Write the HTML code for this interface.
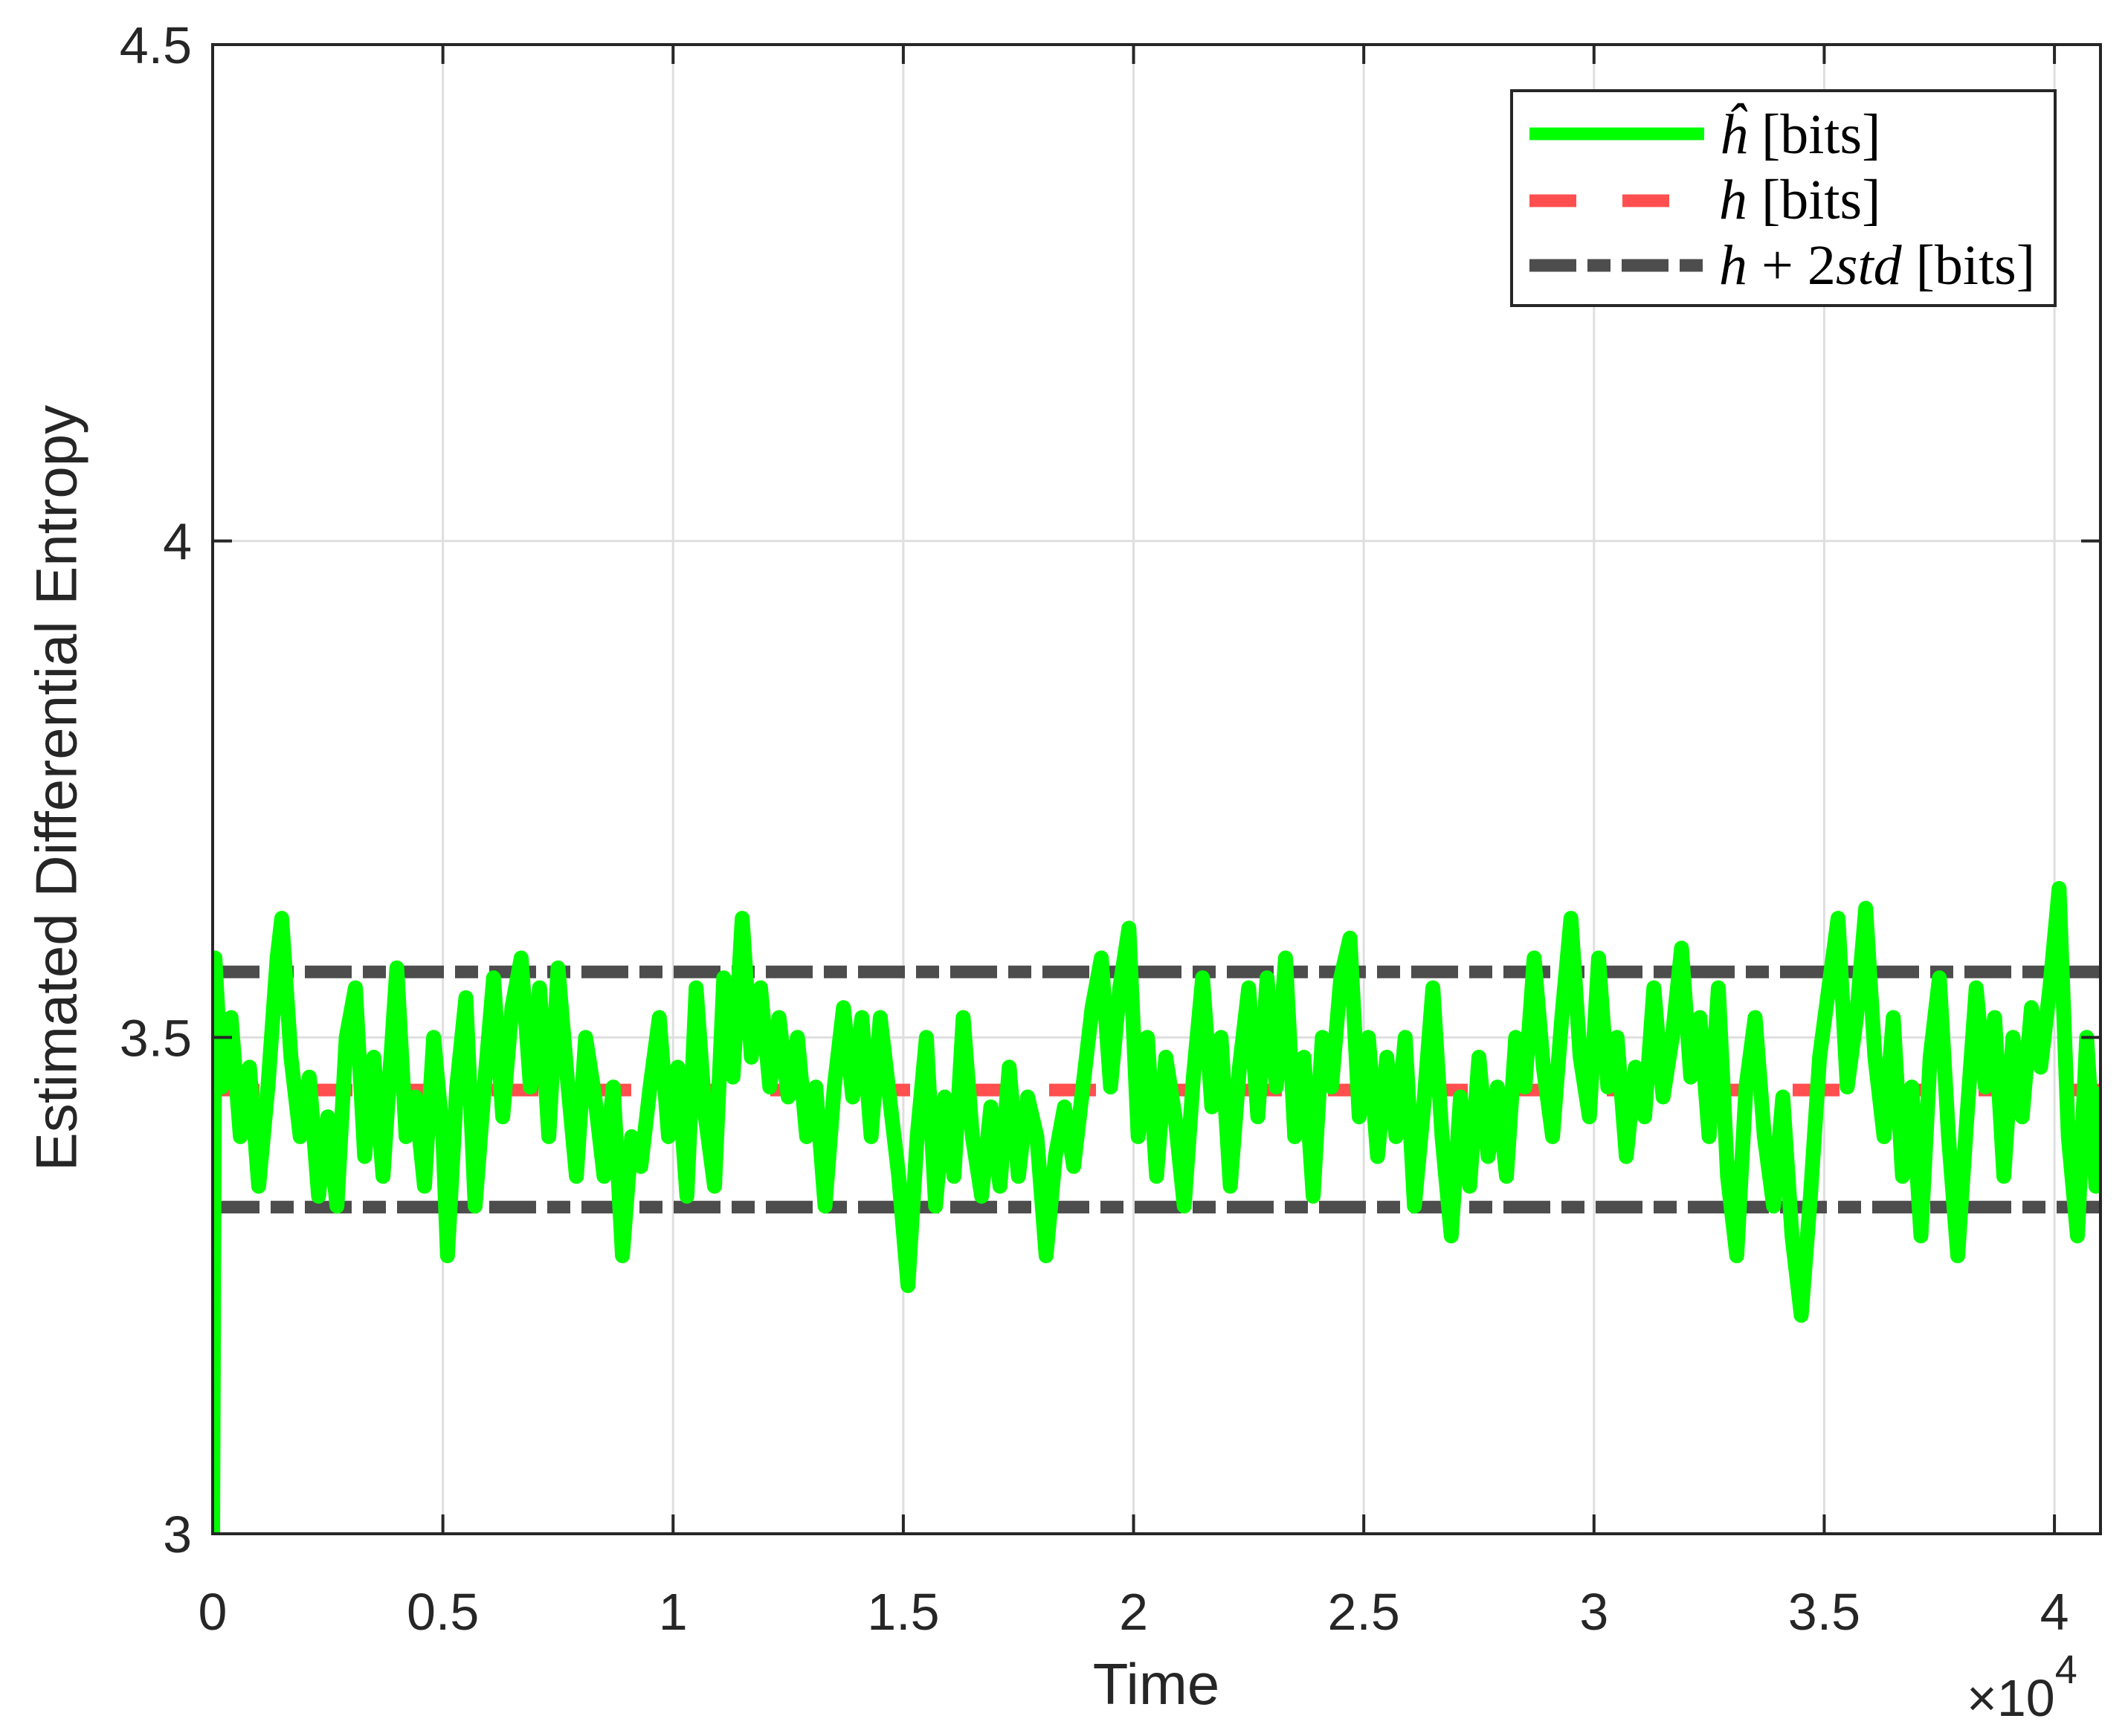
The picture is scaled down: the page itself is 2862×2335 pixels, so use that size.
<!DOCTYPE html>
<html><head><meta charset="utf-8"><style>html,body{margin:0;padding:0;background:#fff}svg{display:block}</style></head>
<body>
<svg id="chart" xmlns="http://www.w3.org/2000/svg" width="2862" height="2335" viewBox="0 0 2862 2335" font-family="Liberation Sans, sans-serif">
<rect width="2862" height="2335" fill="#fff"/>
<g id="grid"></g>
<g id="series"></g>
<g id="axes"></g>
<text x="82" y="1060" font-size="78" fill="#262626" text-anchor="middle" transform="rotate(-90 82 1060)" dominant-baseline="middle">Estimated Differential Entropy</text>
<text x="1555" y="2292" font-size="78" fill="#262626" text-anchor="middle">Time</text>
<text x="2645" y="2308" font-size="70" fill="#262626">×10<tspan dy="-44" font-size="54">4</tspan></text>
<g>
<rect x="2033" y="122" width="731" height="289" fill="#fff" stroke="#262626" stroke-width="4"/>
<line x1="2057" y1="180" x2="2292" y2="180" stroke="#00ff00" stroke-width="17"/>
<line x1="2057" y1="270" x2="2292" y2="270" stroke="#ff4f4f" stroke-width="17" stroke-dasharray="63 62"/>
<line x1="2057" y1="357" x2="2292" y2="357" stroke="#4d4d4d" stroke-width="17" stroke-dasharray="63 15 31 15"/>
<text x="2312" y="206" font-family="Liberation Serif, serif" font-size="76" fill="#000"><tspan font-style="italic">ĥ</tspan> [bits]</text>
<text x="2312" y="294" font-family="Liberation Serif, serif" font-size="76" fill="#000"><tspan font-style="italic">h</tspan> [bits]</text>
<text x="2312" y="382" font-family="Liberation Serif, serif" font-size="76" fill="#000"><tspan font-style="italic">h</tspan> + 2<tspan font-style="italic">std</tspan> [bits]</text>
</g>
</svg>
<script>
const xTicks = [0,5000,10000,15000,20000,25000,30000,35000,40000];
const xTickLabels = ["0","0.5","1","1.5","2","2.5","3","3.5","4"];
const yTicks = [3,3.5,4,4.5];
const yTickLabels = ["3","3.5","4","4.5"];
const hTrue = 3.447;
const hUpper = 3.566;
const hLower = 3.329;
const times = [0,50,200,400,600,800,1000,1200,1400,1500,1700,1900,2100,2300,2500,2700,2900,3100,3300,3500,3700,3900,4000,4200,4400,4600,4800,5000,5100,5300,5500,5700,5900,6100,6300,6500,6700,6900,7100,7300,7500,7700,7900,8100,8300,8500,8700,8900,9100,9300,9500,9700,9900,10100,10300,10500,10700,10900,11100,11300,11500,11700,11900,12100,12300,12500,12700,12900,13100,13300,13500,13700,13900,14100,14300,14500,14700,14900,15100,15300,15500,15700,15900,16100,16300,16500,16700,16900,17100,17300,17500,17700,17900,18100,18300,18500,18700,18900,19100,19300,19500,19700,19900,20100,20300,20500,20700,20900,21100,21300,21500,21700,21900,22100,22300,22500,22700,22900,23100,23300,23500,23700,23900,24100,24300,24500,24700,24900,25100,25300,25500,25700,25900,26100,26300,26500,26700,26900,27100,27300,27500,27700,27900,28100,28300,28500,28700,28900,29100,29300,29500,29700,29900,30100,30300,30500,30700,30900,31100,31300,31500,31700,31900,32100,32300,32500,32700,32900,33100,33300,33500,33700,33900,34100,34300,34500,34700,34900,35100,35300,35500,35700,35900,36100,36300,36500,36700,36900,37100,37300,37500,37700,37900,38100,38300,38500,38700,38900,39100,39300,39500,39700,39900,40100,40300,40500,40700,40900,41000];
const estimates = [3.0,3.58,3.45,3.52,3.40,3.47,3.35,3.45,3.58,3.62,3.48,3.40,3.46,3.34,3.42,3.33,3.50,3.55,3.38,3.48,3.36,3.50,3.57,3.40,3.44,3.35,3.50,3.40,3.28,3.45,3.54,3.33,3.45,3.56,3.42,3.53,3.58,3.45,3.55,3.40,3.57,3.46,3.36,3.50,3.44,3.36,3.45,3.28,3.40,3.37,3.45,3.52,3.40,3.47,3.34,3.55,3.42,3.35,3.56,3.46,3.62,3.48,3.55,3.45,3.52,3.44,3.50,3.40,3.45,3.33,3.45,3.53,3.44,3.52,3.40,3.52,3.44,3.36,3.25,3.40,3.50,3.33,3.44,3.36,3.52,3.40,3.34,3.43,3.35,3.47,3.36,3.44,3.40,3.28,3.38,3.43,3.37,3.45,3.53,3.58,3.45,3.55,3.61,3.40,3.50,3.36,3.48,3.42,3.33,3.46,3.56,3.43,3.50,3.35,3.47,3.55,3.42,3.56,3.45,3.58,3.40,3.48,3.34,3.50,3.45,3.56,3.60,3.42,3.50,3.38,3.48,3.40,3.50,3.33,3.43,3.55,3.40,3.30,3.44,3.35,3.48,3.38,3.45,3.36,3.50,3.45,3.58,3.47,3.40,3.52,3.62,3.48,3.42,3.58,3.45,3.50,3.38,3.47,3.42,3.55,3.44,3.50,3.59,3.46,3.52,3.40,3.55,3.36,3.28,3.45,3.52,3.40,3.33,3.44,3.30,3.22,3.34,3.48,3.55,3.62,3.45,3.52,3.63,3.48,3.40,3.52,3.36,3.45,3.30,3.48,3.56,3.40,3.28,3.42,3.55,3.45,3.52,3.36,3.50,3.42,3.53,3.47,3.55,3.65,3.40,3.30,3.50,3.35,3.45];

const L=286,R=2825,T=60,B=2063,XMIN=0,XMAX=41000,YMIN=3,YMAX=4.5;
const NS='http://www.w3.org/2000/svg';
function xs(v){return L+(v-XMIN)/(XMAX-XMIN)*(R-L);}
function ys(v){return B-(v-YMIN)/(YMAX-YMIN)*(B-T);}
function mk(tag,attrs,parent){const e=document.createElementNS(NS,tag);for(const k in attrs)e.setAttribute(k,attrs[k]);parent.appendChild(e);return e;}
const grid=document.getElementById('grid'),series=document.getElementById('series'),axes=document.getElementById('axes');
xTicks.forEach((t,i)=>{
  const g=mk('line',{x1:xs(t),x2:xs(t),y1:T,y2:B,stroke:'#dfdfdf','stroke-width':3},grid);
  
  
  const a=mk('line',{x1:xs(t),x2:xs(t),y1:B,y2:B-26,stroke:'#262626','stroke-width':4},axes);
  
  
  const b=mk('line',{x1:xs(t),x2:xs(t),y1:T,y2:T+26,stroke:'#262626','stroke-width':4},axes);
  
  
  const tx=mk('text',{x:xs(t),y:2192,'font-size':70,fill:'#262626','text-anchor':'middle'},axes);
  tx.textContent=xTickLabels[i];
  
  
});
yTicks.forEach((t,i)=>{
  const g=mk('line',{x1:L,x2:R,y1:ys(t),y2:ys(t),stroke:'#dfdfdf','stroke-width':3},grid);
  
  
  const a=mk('line',{x1:L,x2:L+26,y1:ys(t),y2:ys(t),stroke:'#262626','stroke-width':4},axes);
  
  
  const b=mk('line',{x1:R,x2:R-26,y1:ys(t),y2:ys(t),stroke:'#262626','stroke-width':4},axes);
  
  
  const tx=mk('text',{x:258,y:ys(t)+25,'font-size':70,fill:'#262626','text-anchor':'end'},axes);
  tx.textContent=yTickLabels[i];
  
  
});
const clip=mk('clipPath',{id:'pc'},series);mk('rect',{x:L,y:T,width:R-L,height:B-T},clip);
const l1=mk('line',{x1:L,x2:R,y1:ys(hTrue),y2:ys(hTrue),stroke:'#ff4f4f','stroke-width':17,'stroke-dasharray':'63 62'},series);


const l2=mk('line',{x1:L,x2:R,y1:ys(hUpper),y2:ys(hUpper),stroke:'#4d4d4d','stroke-width':17,'stroke-dasharray':'63 15 31 15'},series);


const l3=mk('line',{x1:L,x2:R,y1:ys(hLower),y2:ys(hLower),stroke:'#4d4d4d','stroke-width':17,'stroke-dasharray':'63 15 31 15'},series);


const pts=times.map((t,i)=>xs(t).toFixed(1)+','+ys(estimates[i]).toFixed(1)).join(' ');
const pl=mk('polyline',{points:pts,fill:'none',stroke:'#00ff00','stroke-width':20,'stroke-linejoin':'round','clip-path':'url(#pc)'},series);


const frame=mk('rect',{x:L,y:T,width:R-L,height:B-T,fill:'none',stroke:'#262626','stroke-width':4},axes);


</script>
</body></html>
